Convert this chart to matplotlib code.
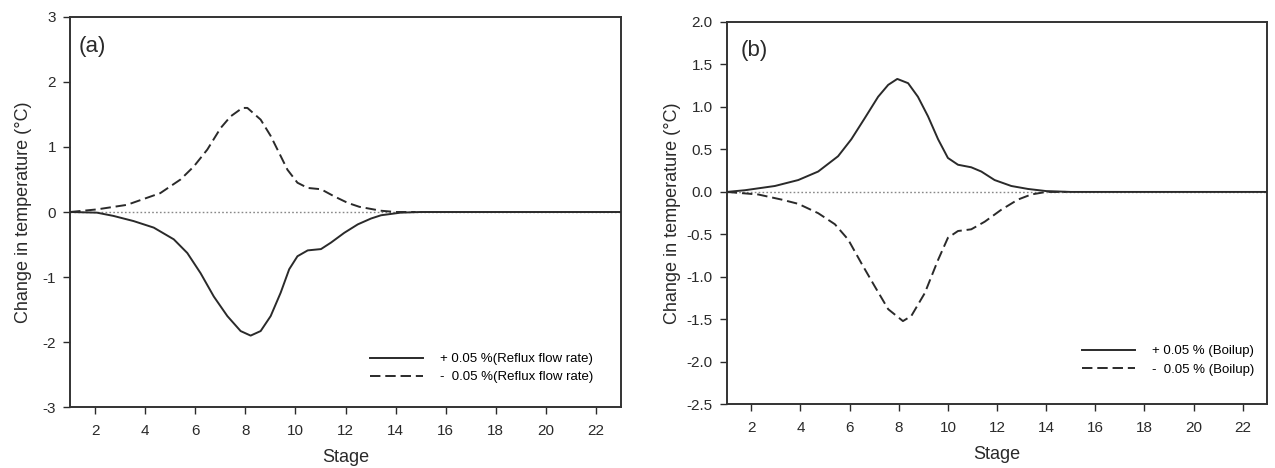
import matplotlib
matplotlib.use("Agg")
import matplotlib.pyplot as plt

plt.rcParams['font.family'] = ['Liberation Sans', 'DejaVu Sans']
plt.rcParams['lines.scale_dashes'] = False

# ---- Panel (a): reflux flow rate ----
a_plus_stage = [1, 2.07, 2.73, 3.54, 4.34, 5.14, 5.68, 6.21, 6.74, 7.28, 7.81, 8.21, 8.61,
                9.01, 9.41, 9.75, 10.08, 10.49, 11.02, 11.42, 11.95, 12.49, 13.02, 13.42,
                14.2, 15, 23]
a_plus_val = [0, -0.01, -0.06, -0.14, -0.24, -0.42, -0.63, -0.94, -1.30, -1.60, -1.83, -1.90,
              -1.83, -1.60, -1.24, -0.88, -0.68, -0.59, -0.57, -0.47, -0.32, -0.19, -0.10,
              -0.05, -0.01, 0, 0]
a_minus_stage = [1, 2.07, 3.27, 4.6, 5.41, 5.94, 6.48, 7.01, 7.41, 7.88, 8.08, 8.61, 9.01,
                 9.41, 9.68, 10.08, 10.49, 11.02, 11.55, 12.09, 12.55, 13.4, 14.0, 14.8]
a_minus_val = [0, 0.04, 0.11, 0.29, 0.50, 0.70, 0.96, 1.29, 1.47, 1.60, 1.60, 1.42, 1.17,
               0.86, 0.65, 0.45, 0.37, 0.35, 0.24, 0.14, 0.08, 0.02, 0, 0]

# ---- Panel (b): boilup ----
b_plus_stage = [1, 1.74, 2.96, 3.91, 4.72, 5.53, 6.07, 6.62, 7.16, 7.57, 7.94, 8.38, 8.78,
                9.19, 9.6, 10.0, 10.41, 10.95, 11.36, 11.9, 12.58, 13.26, 14.0, 15, 23]
b_plus_val = [0, 0.02, 0.07, 0.14, 0.24, 0.42, 0.62, 0.87, 1.12, 1.26, 1.33, 1.28, 1.12,
              0.89, 0.62, 0.40, 0.32, 0.29, 0.24, 0.14, 0.07, 0.035, 0.01, 0, 0]
b_minus_stage = [1, 2.28, 3.23, 3.91, 4.72, 5.4, 5.94, 6.48, 7.02, 7.57, 8.17, 8.51, 9.06,
                 9.6, 10.0, 10.41, 10.95, 11.5, 12.17, 12.85, 13.39, 14.0, 14.8]
b_minus_val = [0, -0.03, -0.09, -0.14, -0.25, -0.38, -0.56, -0.84, -1.11, -1.38, -1.52,
               -1.46, -1.19, -0.80, -0.54, -0.46, -0.44, -0.35, -0.21, -0.09, -0.03, 0, 0]

base_stage = [1, 23]
base_val = [0, 0]

x_ticks = [2, 4, 6, 8, 10, 12, 14, 16, 18, 20, 22]
a_yticks = [-3, -2, -1, 0, 1, 2, 3]
a_yticklabels = ['-3', '-2', '-1', '0', '1', '2', '3']
b_yticks = [-2.5, -2.0, -1.5, -1.0, -0.5, 0.0, 0.5, 1.0, 1.5, 2.0]
b_yticklabels = ['-2.5', '-2.0', '-1.5', '-1.0', '-0.5', '0.0', '0.5', '1.0', '1.5', '2.0']

a_labels = ['+ 0.05 %(Reflux flow rate)', '-  0.05 %(Reflux flow rate)']
b_labels = ['+ 0.05 % (Boilup)', '-  0.05 % (Boilup)']

fig = plt.figure(figsize=(12.75, 4.68), dpi=100)
ax_a = fig.add_axes([0.055, 0.130, 0.432, 0.834])
ax_b = fig.add_axes([0.570, 0.136, 0.424, 0.817])

ink = '#2a2a2a'

def style(ax, yticks, yticklabels, ylim, tag, tag_xy, plus_s, plus_v, minus_s, minus_v,
          labels, leg_anchor):
    ax.plot(base_stage, base_val, color='#888888', lw=1.0, ls=(0, (1.2, 1.6)), zorder=1)
    l1, = ax.plot(plus_s, plus_v, color=ink, lw=1.4, zorder=3)
    l2, = ax.plot(minus_s, minus_v, color=ink, lw=1.4, dashes=(7.5, 3.5), zorder=2)
    ax.set_xlim(1, 23)
    ax.set_ylim(*ylim)
    ax.set_xticks(x_ticks)
    ax.set_yticks(yticks)
    ax.set_yticklabels(yticklabels)
    ax.tick_params(direction='out', length=5, width=1.0, colors=ink, labelsize=11,
                   pad=5)
    ax.tick_params(axis='x', pad=7)
    for sp in ax.spines.values():
        sp.set_linewidth(1.4)
        sp.set_color('#333333')
    ax.set_xlabel('Stage', fontsize=13, color=ink, labelpad=8)
    ax.set_ylabel('Change in temperature (°C)', fontsize=13, color=ink)
    ax.text(tag_xy[0], tag_xy[1], tag, transform=ax.transAxes, fontsize=16, color=ink,
            ha='left', va='center')
    ax.legend([l1, l2], labels, loc='center right', bbox_to_anchor=leg_anchor,
              frameon=False, fontsize=9.5, handlelength=4.0, handletextpad=1.3,
              labelspacing=0.45, borderaxespad=0)

style(ax_a, a_yticks, a_yticklabels, (-3, 3), '(a)', (0.015, 0.925),
      a_plus_stage, a_plus_val, a_minus_stage, a_minus_val, a_labels, (0.96, 0.10))
style(ax_b, b_yticks, b_yticklabels, (-2.5, 2.0), '(b)', (0.025, 0.925),
      b_plus_stage, b_plus_val, b_minus_stage, b_minus_val, b_labels, (0.985, 0.115))

ax_a.yaxis.labelpad = 8
ax_b.yaxis.labelpad = 4

fig.savefig('out.png', dpi=100)
